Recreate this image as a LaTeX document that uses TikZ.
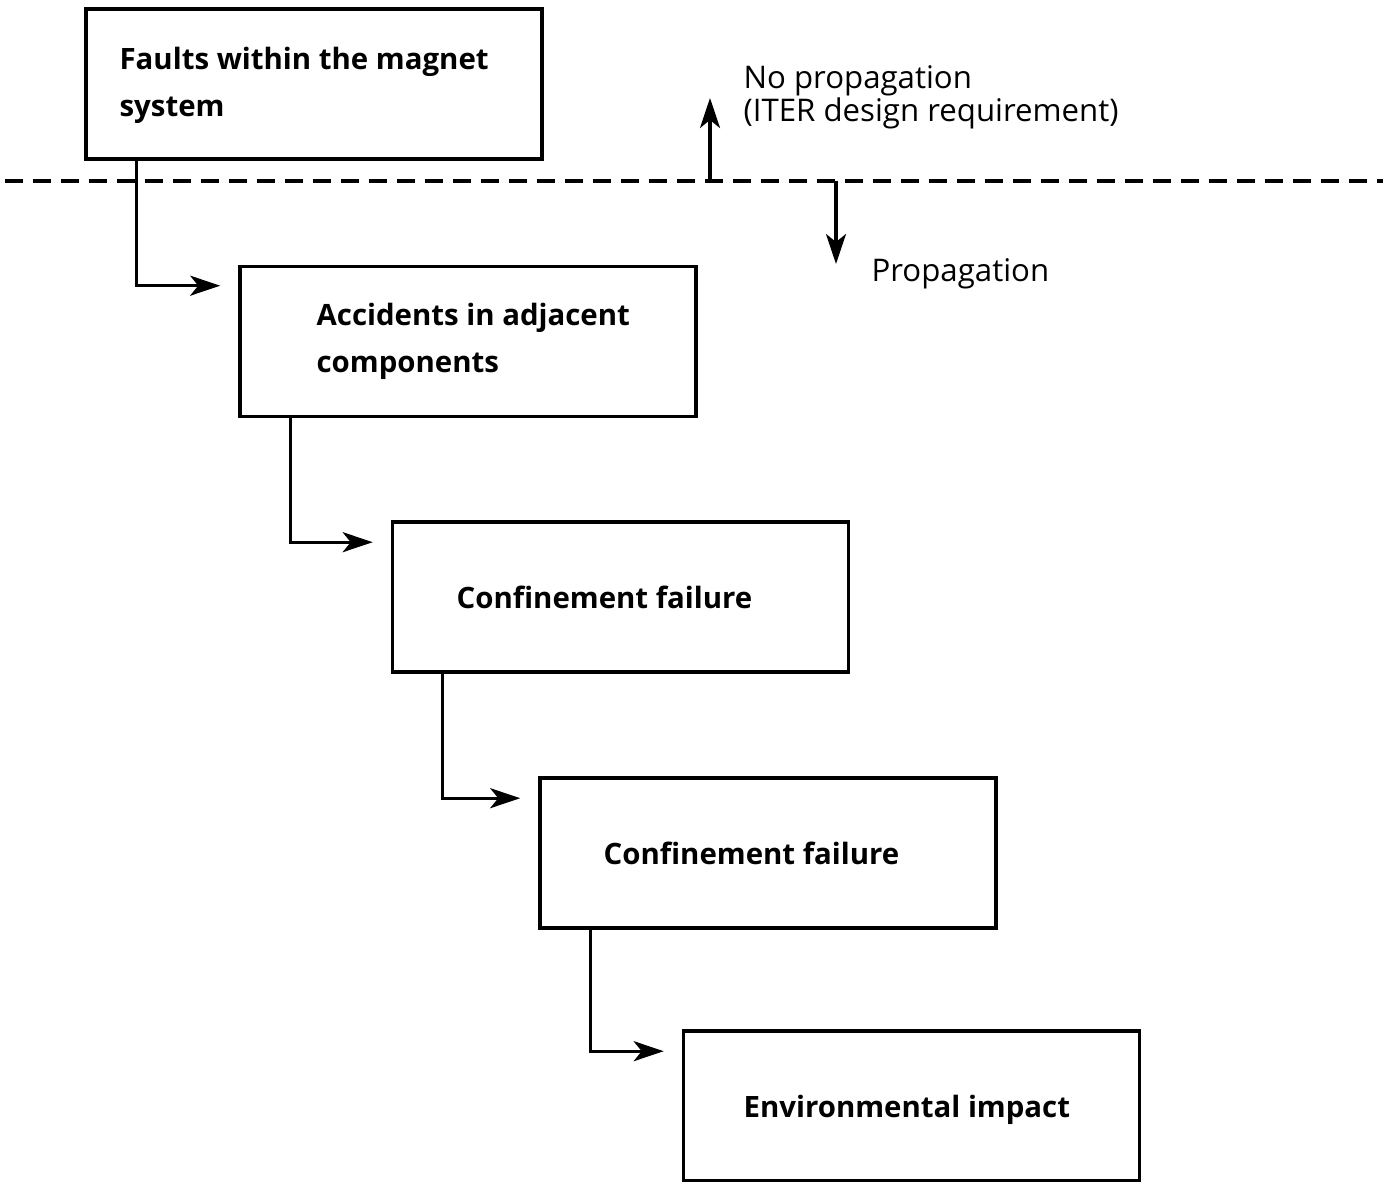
\documentclass[tikz,border=0pt]{standalone}
\usepackage{fontspec}
\setmainfont{Open Sans}
\usetikzlibrary{arrows.meta}

\begin{document}
\begin{tikzpicture}[x=0.5pt,y=-0.5pt,line width=1.6pt,>={Stealth[length=15pt,width=10pt,inset=4pt]},
  box/.style={draw,rectangle,minimum width=228pt,minimum height=75pt,line width=1.8pt},
  boxtext/.style={anchor=west,inner sep=0pt,align=left,font=\fontsize{14.7}{23.5}\selectfont\bfseries},
  note/.style={anchor=west,inner sep=0pt,align=left,font=\fontsize{15.6}{15.5}\selectfont},
  flow/.style={->,line width=1.6pt}]
  \useasboundingbox (0,0) rectangle (1383,1182);

  \node[box] (faults) at (314,84) {};
  \node[box] (accid) at (468,341.5) {};
  \node[box] (conf1) at (620.5,597) {};
  \node[box] (conf2) at (768,853) {};
  \node[box] (envir) at (911.5,1106) {};

  \node[boxtext] (tfaults) at (118,85) {Faults within the magnet\\system};
  \node[boxtext] (taccid) at (315,341) {Accidents in adjacent\\components};
  \node[boxtext] (tconf1) at (455,597) {Confinement failure};
  \node[boxtext] (tconf2) at (602,853) {Confinement failure};
  \node[boxtext] (tenvir) at (742,1110) {Environmental impact};

  \coordinate (dl) at (5,181);
  \coordinate (dr) at (1383,181);
  \coordinate (up) at (710,181);
  \coordinate (uptip) at (710,98);
  \coordinate (dn) at (836,181);
  \coordinate (dntip) at (836,264);

  \draw[dash pattern=on 9pt off 5pt,line width=1.8pt] (dl) -- (dr);
  \draw[->] (up) -- (uptip);
  \draw[->] (dn) -- (dntip);
  \node[note] (nopro) at (742,97) {No propagation\\(ITER design requirement)};
  \node[note] (pro) at (870,274) {Propagation};

  \draw[flow] ([xshift=26pt]faults.south west) |- ([xshift=-9pt,yshift=-10.5pt]accid.north west);
  \draw[flow] ([xshift=26pt]accid.south west) |- ([xshift=-9pt,yshift=-11pt]conf1.north west);
  \draw[flow] ([xshift=26pt]conf1.south west) |- ([xshift=-9pt,yshift=-11pt]conf2.north west);
  \draw[flow] ([xshift=26pt]conf2.south west) |- ([xshift=-9pt,yshift=-11pt]envir.north west);
\end{tikzpicture}
\end{document}
